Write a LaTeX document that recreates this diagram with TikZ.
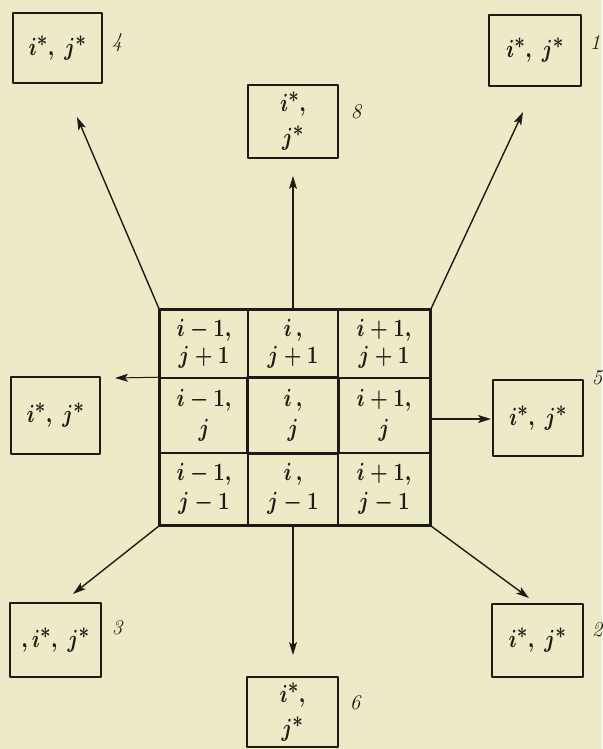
\documentclass[tikz,border=0pt]{standalone}
\usetikzlibrary{arrows.meta}
\definecolor{paper}{RGB}{237,234,199}
\definecolor{ink}{RGB}{30,26,22}
\newcommand{\cnd}[1]{\scalebox{0.82}[1]{\boldmath#1}}
\newcommand{\sr}{^{\scalebox{1.3}{$\scriptstyle\ast$}}}
\begin{document}
\begin{tikzpicture}[x=1pt,y=-1pt,line join=round,
  obox/.style={draw=ink, line width=2.5pt, inner sep=0pt, text=ink, align=center,
    font=\fontsize{25}{29}\selectfont},
  cell/.style={draw=ink, line width=1.6pt, inner sep=0pt, text=ink, align=center,
    font=\fontsize{25}{27}\selectfont},
  num/.style={text=ink, inner sep=0pt, font=\fontsize{21}{21}\selectfont\itshape},
  arr/.style={draw=ink, line width=1.4pt, -{Stealth[length=13pt,width=8pt,inset=3pt]}},
]
\fill[paper] (0,0) rectangle (602,749);
\useasboundingbox (0,0) rectangle (602,749);

% grid cells
\node[cell, minimum width=88, minimum height=68] (c11) at (204,344) {\cnd{$i-1,$}\\\cnd{$j+1$}};
\node[cell, minimum width=90, minimum height=68] (c12) at (293,344) {\cnd{$i\,,$}\\\cnd{$j+1$}};
\node[cell, minimum width=92, minimum height=68] (c13) at (384,344) {\cnd{$i+1,$}\\\cnd{$j+1$}};
\node[cell, minimum width=88, minimum height=75] (c21) at (204,415.5) {\cnd{$i-1,$}\\[3pt]\cnd{$j$}};
\node[cell, minimum width=90, minimum height=75] (c22) at (293,415.5) {\cnd{$i\,,$}\\[3pt]\cnd{$j$}};
\node[cell, minimum width=92, minimum height=75] (c23) at (384,415.5) {\cnd{$i+1,$}\\[3pt]\cnd{$j$}};
\node[cell, minimum width=88, minimum height=72] (c31) at (204,489) {\cnd{$i-1,$}\\[2pt]\cnd{$j-1$}};
\node[cell, minimum width=90, minimum height=72] (c32) at (293,489) {\cnd{$i\,,$}\\[2pt]\cnd{$j-1$}};
\node[cell, minimum width=92, minimum height=72] (c33) at (384,489) {\cnd{$i+1,$}\\[2pt]\cnd{$j-1$}};
\draw[ink, line width=3.2pt] (c22.north west) rectangle (c22.south east);
\draw[ink, line width=2.2pt] (c11.north west) rectangle (c33.south east);

% outer boxes
\node[obox, minimum width=89, minimum height=70] (b4) at (57.5,48) {\cnd{$i\sr,\ j\sr$}};
\node[obox, minimum width=92, minimum height=71] (b1) at (535,50.5) {\cnd{$i\sr,\ j\sr$}};
\node[obox, minimum width=90, minimum height=73] (b8) at (293,121.5) {\cnd{$i\sr,$}\\[5pt]\cnd{$j\sr$}};
\node[obox, minimum width=89, minimum height=77] (b7) at (55.5,415.5) {\cnd{$i\sr,\ j\sr$}};
\node[obox, minimum width=90, minimum height=76] (b5) at (538,418) {\cnd{$i\sr,\ j\sr$}};
\node[obox, minimum width=91, minimum height=74] (b3) at (55.5,640) {\cnd{$,i\sr,\ j\sr$}};
\node[obox, minimum width=91, minimum height=73] (b2) at (537.5,640.5) {\cnd{$i\sr,\ j\sr$}};
\node[obox, minimum width=91, minimum height=70] (b6) at (292.5,712) {\cnd{$i\sr,$}\\[5pt]\cnd{$j\sr$}};

% numbers
\node[num] (n4) at (117,43) {4};
\node[num] (n1) at (595,43) {1};
\node[num] (n8) at (356,112) {8};
\node[num] (n5) at (597,378) {5};
\node[num] (n3) at (117,628) {3};
\node[num] (n2) at (597,630) {2};
\node[num] (n6) at (355,703) {6};

% arrow tips
\coordinate (t4) at (77,117);
\coordinate (t1) at (523,112);
\coordinate (t8) at (293,176);
\coordinate (t7) at (115,378);
\coordinate (t5) at (491,419);
\coordinate (t3) at (73,594);
\coordinate (t6) at (293,655);
\coordinate (t2) at (529,598);

% arrows
\draw[arr] (c11.north west) -- (t4);
\draw[arr] (c13.north east) -- (t1);
\draw[arr] (c12.north) -- (t8);
\draw[arr, line width=1pt] (c21.north west) -- (t7);
\draw[arr] (c23.east |- t5) -- (t5);
\draw[arr] (c31.south west) -- (t3);
\draw[arr] (c32.south) -- (t6);
\draw[arr] (c33.south east) -- (t2);
\end{tikzpicture}
\end{document}
